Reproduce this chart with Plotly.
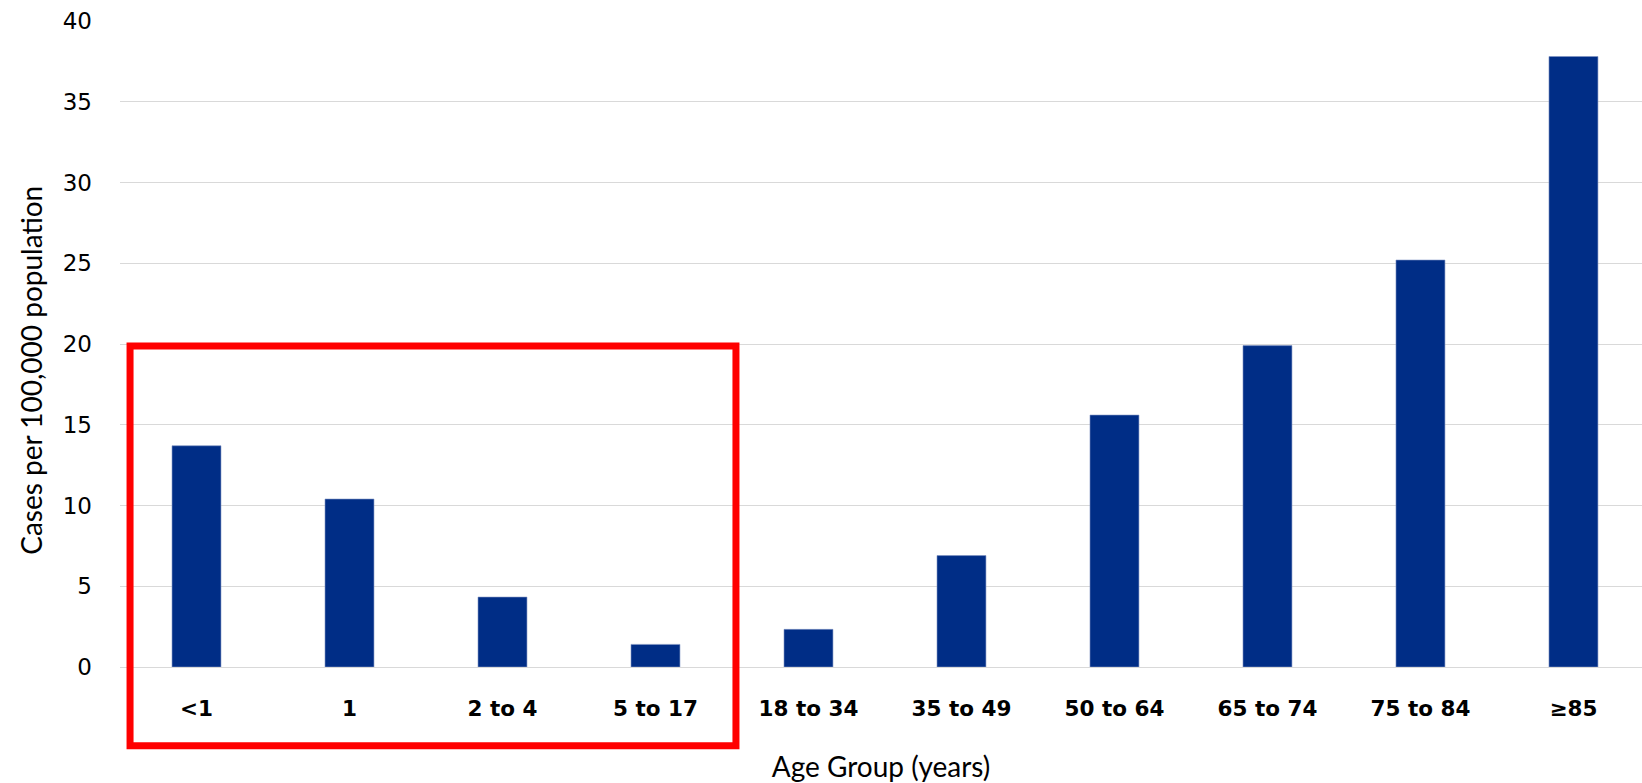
import plotly.graph_objects as go

# Age groups and incidence (cases per 100,000 population)
age_groups = ["<1", "1", "2 to 4", "5 to 17", "18 to 34", "35 to 49",
              "50 to 64", "65 to 74", "75 to 84", "≥85"]
rates = [13.7, 10.4, 4.33, 1.4, 2.33, 6.9, 15.6, 19.9, 25.2, 37.8]
y_ticks = [0, 5, 10, 15, 20, 25, 30, 35, 40]

BAR_COLOR = "#002D86"
TICK_FONT = "DejaVu Sans"
TITLE_FONT = "Lato"

fig = go.Figure(
    go.Bar(
        x=list(range(len(age_groups))),
        y=rates,
        width=0.32,
        marker=dict(color=BAR_COLOR, line=dict(color="#7f93c2", width=0.6)),
    )
)

fig.update_layout(
    width=1642,
    height=783,
    margin=dict(l=120, r=0, t=21, b=116),
    plot_bgcolor="white",
    paper_bgcolor="white",
    showlegend=False,
    font=dict(family=TITLE_FONT, color="black"),
    xaxis=dict(
        range=[-0.5, 9.448],
        tickmode="array",
        tickvals=list(range(len(age_groups))),
        ticktext=[f"<b>{g}</b>" for g in age_groups],
        tickfont=dict(size=21.5, family=TICK_FONT, color="black"),
        ticklabelstandoff=26,
        showgrid=False,
        zeroline=False,
        showline=False,
        ticks="",
        title=dict(text="Age Group (years)",
                   font=dict(size=28, family=TITLE_FONT, color="black"),
                   standoff=38),
    ),
    yaxis=dict(
        range=[0, 40],
        tickvals=y_ticks,
        tickfont=dict(size=23, family=TICK_FONT, color="black"),
        ticklabelstandoff=27,
        showgrid=True,
        gridcolor="#d9d9d9",
        gridwidth=1.3,
        zeroline=True,
        zerolinecolor="#d9d9d9",
        zerolinewidth=1.3,
        showline=False,
        ticks="",
    ),
    annotations=[
        dict(text="Cases per 100,000 population", textangle=-90,
             xref="paper", yref="paper", x=-0.0585, y=0.46,
             xanchor="center", yanchor="middle", showarrow=False,
             font=dict(size=28, family=TITLE_FONT, color="black")),
    ],
    shapes=[
        dict(type="rect", xref="paper", yref="paper",
             x0=0.0066, x1=0.4047, y0=-0.1218, y1=0.497,
             line=dict(color="#ff0000", width=7), fillcolor="rgba(0,0,0,0)",
             layer="above"),
    ],
)

fig.write_html("out.html")
